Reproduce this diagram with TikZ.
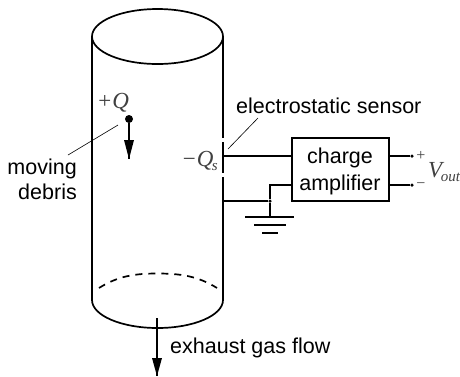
\documentclass[tikz,border=0pt]{standalone}
\usepackage{fontspec}
\setmainfont{Liberation Sans}
\newfontfamily\mathserif{Liberation Serif}
\newcommand{\subtxt}[1]{\kern-1.5pt\raisebox{-4.5pt}{\fontsize{15}{15}\selectfont #1}}
\tikzset{
  wall/.style={line width=1.7pt},
  wire/.style={line width=1.2pt},
  leader/.style={line width=0.6pt},
  label/.style={font=\fontsize{21.5}{25}\selectfont,inner sep=0pt},
  symb/.style={font=\mathserif\itshape\fontsize{23}{26}\selectfont,inner sep=0pt,text=black!75},
  joint/.style={circle,fill=black,inner sep=0pt,minimum size=3.5pt},
  head/.style={fill=black,draw=none}
}
\begin{document}
\begin{tikzpicture}[x=1pt,y=-1pt]
  \useasboundingbox (0,0) rectangle (460,376);
  % tube
  \draw[wall] (157.5,36.5) ellipse [x radius=65.5,y radius=27.5];
  \coordinate (tl) at (92,36.5);
  \coordinate (tr) at (223,36.5);
  \coordinate (bl) at (92,300);
  \coordinate (br) at (223,300);
  \coordinate (s1) at (223,138);
  \coordinate (s2) at (223,142);
  \coordinate (s3) at (223,173);
  \coordinate (s4) at (223,177);
  \draw[wall] (tl) -- (bl);
  \draw[wall] (tr) -- (s1);
  \draw[wall] (s2) -- (s3);
  \draw[wall] (s4) -- (br);
  \draw[wall] (bl) arc [start angle=180,end angle=0,x radius=65.5,y radius=28];
  \draw[wall,dash pattern=on 7pt off 6pt] (99,288) .. controls (118,276) and (135,273.5) .. (157.5,273.5) .. controls (180,273.5) and (198,276) .. (217,288);
  % debris
  \node[joint,minimum size=8pt] (debris) at (129,119) {};
  \coordinate (dtip) at (129,159);
  \draw[wire] (debris) -- (dtip);
  \fill[head] (dtip) -- (124,140) -- (134,140) -- cycle;
  \node[symb,anchor=base] (charge) at (113,108) {+Q};
  \node[label,anchor=base east] (moving) at (77,174) {moving};
  \node[label,anchor=base east] (debristxt) at (77,199) {debris};
  \coordinate (d1) at (68,155);
  \coordinate (d2) at (118,125);
  \draw[leader] (d1) -- (d2);
  % sensor
  \node[symb,anchor=base east] (qs) at (218,166) {−Q\subtxt{s}};
  \node[label,anchor=base west] (sensor) at (236,113) {electrostatic sensor};
  \coordinate (l1) at (258,118);
  \coordinate (l2) at (228,149);
  \draw[leader] (l1) -- (l2);
  % amplifier
  \node[draw,wire,minimum width=97pt,minimum height=63pt] (amp) at (340.5,169.5) {};
  \node[label,anchor=base] (ampa) at (340,163) {charge};
  \node[label,anchor=base] (ampb) at (340,190) {amplifier};
  \coordinate (w1) at (223,156);
  \coordinate (w2) at (292,156);
  \coordinate (w3) at (292,185);
  \coordinate (w4) at (270,185);
  \coordinate (w5) at (223,201);
  \node[joint] (gnd) at (270,201) {};
  \draw[wire] (w1) -- (w2);
  \draw[wire] (w3) -- (w4) -- (gnd);
  \draw[wire] (w5) -- (gnd);
  % ground
  \coordinate (g0) at (270,217);
  \draw[wire] (gnd) -- (g0);
  \coordinate (g1) at (245,217);
  \coordinate (g2) at (294,217);
  \coordinate (g3) at (254,225);
  \coordinate (g4) at (286,225);
  \coordinate (g5) at (262,233);
  \coordinate (g6) at (278,233);
  \draw[wire] (g1) -- (g2);
  \draw[wire] (g3) -- (g4);
  \draw[wire] (g5) -- (g6);
  % output
  \coordinate (o1) at (389,156);
  \coordinate (o2) at (389,185);
  \node[joint] (plus) at (412,156) {};
  \node[joint] (minus) at (412,185) {};
  \draw[wire] (o1) -- (plus);
  \draw[wire] (o2) -- (minus);
  \node[inner sep=0pt,text=black!75,font=\mathserif\fontsize{16}{16}\selectfont] (ptxt) at (421,156) {+};
  \node[inner sep=0pt,text=black!75,font=\mathserif\fontsize{16}{16}\selectfont] (mtxt) at (421,186) {−};
  \node[symb,anchor=base west] (vout) at (428,177) {V\subtxt{out}};
  % exhaust
  \coordinate (e1) at (157,318);
  \coordinate (e2) at (157,376);
  \draw[wire] (e1) -- (e2);
  \fill[head] (e2) -- (152,358) -- (162,358) -- cycle;
  \node[label,anchor=base west] (gas) at (170,353.5) {exhaust gas flow};
\end{tikzpicture}
\end{document}
